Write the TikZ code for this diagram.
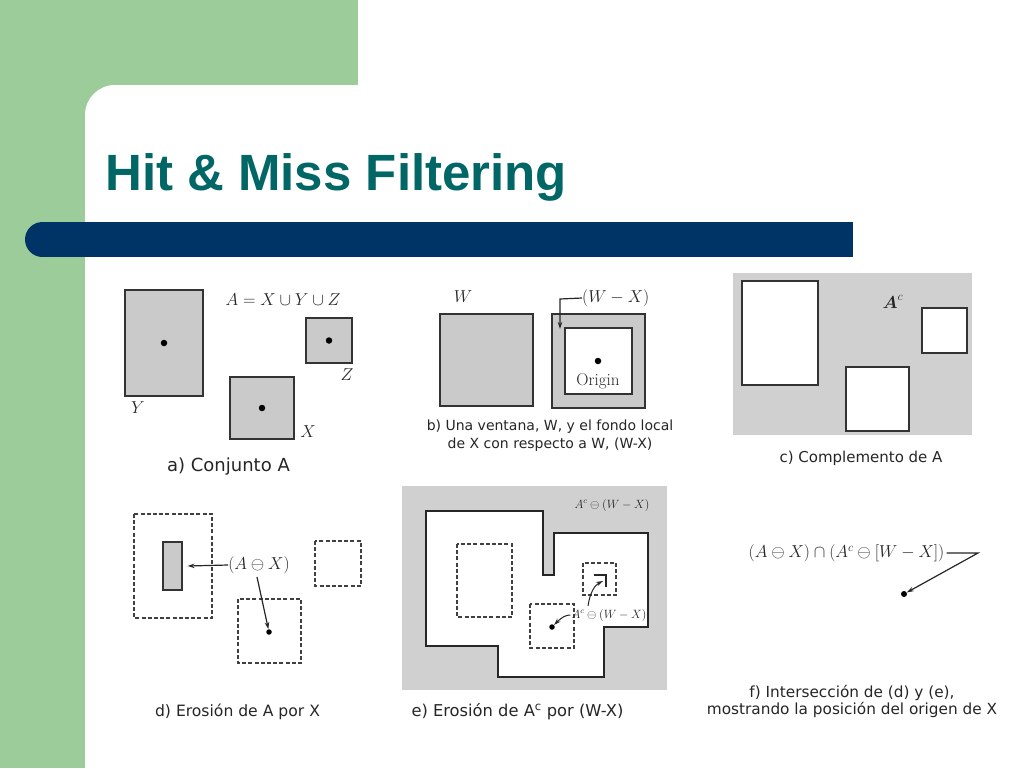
\documentclass[tikz,border=0pt]{standalone}
\usepackage{amsmath}
\usepackage{fontspec}
\usetikzlibrary{arrows.meta}
\newfontfamily\titlefont{Liberation Sans}
\newfontfamily\capfont{DejaVu Sans}
\definecolor{slidegreen}{RGB}{155,204,153}
\definecolor{slideblue}{RGB}{0,51,102}
\definecolor{titleteal}{RGB}{0,102,102}
\definecolor{scan}{RGB}{202,202,202}
\definecolor{scanlight}{RGB}{208,208,208}
\tikzset{
  graybox/.style={fill=scan, draw=black!80, line width=1.2pt},
  whitebox/.style={fill=white, draw=black!80, line width=1.2pt},
  dashbox/.style={draw=black!75, line width=1.2pt, dash pattern=on 4pt off 2.2pt},
  dotn/.style={circle, fill=black, inner sep=0pt, minimum size=6.5pt},
  captxt/.style={font=\capfont\fontsize{15.5}{17}\selectfont, text=black!85, align=center},
  mlbl/.style={font=\fontsize{17}{20}\selectfont, text=black!85, inner sep=0pt},
  slbl/.style={font=\fontsize{11.5}{13}\selectfont, text=black!85, inner sep=0pt},
  arr/.style={-{Stealth[length=7pt,width=4.5pt]}, line width=1.2pt, draw=black!85},
}
\begin{document}
\begin{tikzpicture}[x=1pt,y=-1pt]
\useasboundingbox (0,0) rectangle (1024,768);
% background
\fill[white] (0,0) rectangle (1024,768);
\fill[slidegreen] (0,0) rectangle (358,85);
\fill[slidegreen] (0,0) rectangle (85,768);
\fill[slidegreen] (0,0) rectangle (115,115);
\fill[white] (115,85) rectangle (1024,768);
\fill[white] (85,115) rectangle (1024,768);
\fill[white] (115,115) circle[radius=30pt];
\fill[slideblue] (42.5,222) rectangle (853,257);
\fill[slideblue] (42.5,239.5) circle[radius=17.5pt];
\node[font=\titlefont\bfseries\fontsize{51}{60}\selectfont, text=titleteal, anchor=base west, inner sep=0pt] (title) at (105,190) {Hit \& Miss Filtering};

% ---------- panel a ----------
\node[graybox, minimum width=78pt, minimum height=106pt, inner sep=0pt] (aY) at (164,343) {};
\node[graybox, minimum width=46pt, minimum height=45pt, inner sep=0pt] (aZ) at (329,340.5) {};
\node[graybox, minimum width=64pt, minimum height=62pt, inner sep=0pt] (aX) at (262,408) {};
\node[dotn] (aYd) at (aY.center) {};
\node[dotn] (aZd) at (aZ.center) {};
\node[dotn] (aXd) at (aX.center) {};
\node[mlbl] (aYl) at (138,408) {$Y$};
\node[mlbl] (aZl) at (347,375) {$Z$};
\node[mlbl] (aXl) at (308,432) {$X$};
\node[mlbl] (aeq) at (283,300) {$A = X\cup Y\cup Z$};
\node[captxt, font=\capfont\fontsize{18}{20}\selectfont] (acap) at (228.5,467) {a) Conjunto A};

% ---------- panel b ----------
\node[graybox, minimum width=93pt, minimum height=92pt, inner sep=0pt] (bW) at (486.5,360) {};
\node[graybox, minimum width=93pt, minimum height=94pt, inner sep=0pt] (bO) at (598.5,361) {};
\node[whitebox, minimum width=67pt, minimum height=66pt, inner sep=0pt] (bI) at (598.5,361) {};
\node[dotn] (bd) at (598,361) {};
\node[mlbl] (borig) at (598,381) {Origin};
\node[mlbl] (bWl) at (463,297) {$W$};
\node[mlbl, anchor=west] (bWX) at (582,298) {$(W - X)$};
\coordinate (bcorner) at (560,299);
\coordinate (btip) at (560,329);
\draw[arr] (bWX.west) -- (bcorner) -- (btip);
\node[captxt, font=\capfont\fontsize{14}{18}\selectfont] (bcap) at (550,436) {b) Una ventana, W, y el fondo local\\de X con respecto a W, (W-X)};

% ---------- panel c ----------
\fill[scanlight] (733,273) rectangle (972,435);
\draw[whitebox] (742,281) rectangle (818,385);
\draw[whitebox] (922,308) rectangle (967,353);
\draw[whitebox] (846,367) rectangle (909,431);
\node[mlbl] (cAc) at (893,302) {$\boldsymbol{A}^c$};
\node[captxt, font=\capfont\fontsize{15}{17}\selectfont] (ccap) at (861,458) {c) Complemento de A};

% ---------- panel d ----------
\draw[dashbox] (134,514) rectangle (212,618);
\draw[dashbox] (315,541) rectangle (361,586);
\draw[dashbox] (238,599) rectangle (301,663);
\node[graybox, minimum width=19pt, minimum height=48pt, inner sep=0pt] (dE) at (172.5,566) {};
\node[dotn, minimum size=5.5pt] (dd) at (269,632) {};
\node[mlbl] (dlbl) at (259,565) {$(A\ominus X)$};
\draw[arr] (dlbl.west) -- ([xshift=5pt]dE.east);
\draw[arr] (257,577) -- (dd);
\node[captxt, font=\capfont\fontsize{15.6}{17}\selectfont] (dcap) at (237.5,712) {d) Erosión de A por X};

% ---------- panel e ----------
\fill[scanlight] (402,486) rectangle (667,690);
\draw[fill=white, draw=black!85, line width=1.3pt] (426,511) -- (543,511) -- (543,575) -- (554,575) -- (554,533) -- (648,533) -- (648,627) -- (604,627) -- (604,677) -- (498,677) -- (498,646) -- (426,646) -- cycle;
\draw[dashbox] (457,544) rectangle (512,617);
\draw[dashbox] (583,563) rectangle (616,595);
\draw[dashbox] (530,604) rectangle (574,648);
\draw[line width=1.4pt, draw=black!85] (594,575) -- (606,575) -- (606,587);
\coordinate (ebr) at (603,581);
\node[dotn, minimum size=5.5pt] (ed) at (552,627) {};
\node[slbl] (elbl) at (609,615) {$A^c\ominus(W - X)$};
\node[slbl] (etop) at (612,505) {$A^c\ominus(W - X)$};
\draw[arr, line width=1pt] ([xshift=-1pt]elbl.west) .. controls (566,615) and (562,617) .. (ed);
\draw[arr, line width=1pt] (588,606) .. controls (590,592) and (595,585) .. (ebr);
\node[captxt, font=\capfont\fontsize{16.3}{18}\selectfont] (ecap) at (517.5,712) {e) Erosión de A\textsuperscript{c} por (W-X)};

% ---------- panel f ----------
\node[font=\fontsize{16.7}{19}\selectfont, text=black!85, inner sep=0pt] (flbl) at (846.5,553) {$(A\ominus X)\cap(A^c\ominus[W - X])$};
\coordinate (fk) at (978,553);
\node[dotn, minimum size=6pt] (fd) at (904,594) {};
\draw[arr] ([xshift=2pt]flbl.east) -- (fk) -- (fd);
\node[captxt, font=\capfont\fontsize{15.3}{17}\selectfont] (fcap) at (852,701.5) {f) Intersección de (d) y (e),\\mostrando la posición del origen de X};
\end{tikzpicture}
\end{document}
